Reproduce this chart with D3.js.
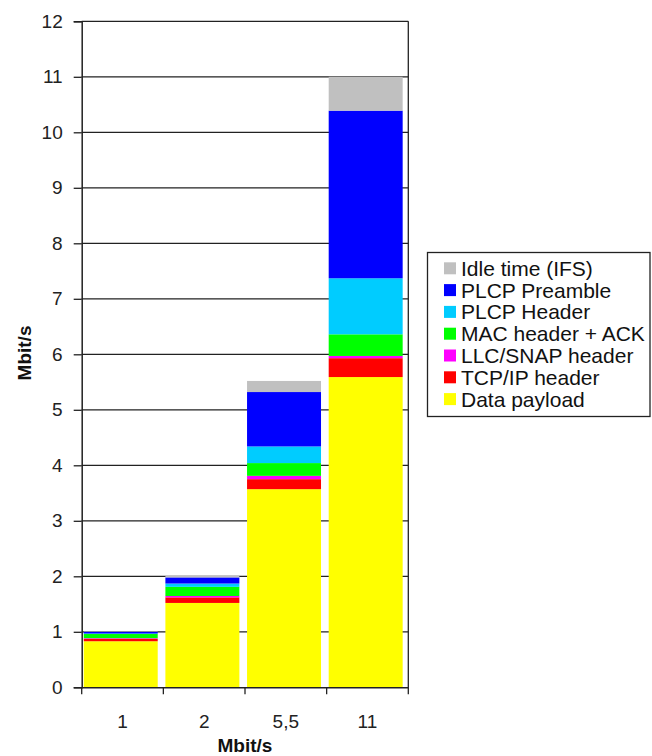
<!DOCTYPE html>
<html>
<head>
<meta charset="utf-8">
<script src="https://cdn.jsdelivr.net/npm/d3@7"></script>
<style>
  html, body { margin: 0; padding: 0; background: #fff; }
  svg { display: block; font-family: "Liberation Sans", Arial, sans-serif; }
</style>
</head>
<body>
<svg id="chart" width="652" height="756"></svg>
<script>
// ---- data ----
const categories = ["1", "2", "5,5", "11"];
const seriesNames = ["Data payload", "TCP/IP header", "LLC/SNAP header", "MAC header + ACK", "PLCP Header", "PLCP Preamble", "Idle time (IFS)"];
const seriesColors = ["#FFFF00", "#FF0000", "#FF00FF", "#00FF00", "#00CCFF", "#0000FF", "#C0C0C0"];
const dataPayload  = [0.83, 1.52, 3.57, 5.59];
const tcpIpHeader  = [0.045, 0.10, 0.18, 0.34];
const llcSnap      = [0.01, 0.025, 0.06, 0.04];
const macHeaderAck = [0.075, 0.165, 0.23, 0.39];
const plcpHeader   = [0.01, 0.06, 0.30, 1.01];
const plcpPreamble = [0.03, 0.11, 0.98, 3.02];
const idleTime     = [0.01, 0.03, 0.20, 0.61];
const yTicks = [0, 1, 2, 3, 4, 5, 6, 7, 8, 9, 10, 11, 12];
const axisTitle = "Mbit/s";

const seriesValues = [dataPayload, tcpIpHeader, llcSnap, macHeaderAck, plcpHeader, plcpPreamble, idleTime];
const table = categories.map((c, i) => {
  const row = { cat: c };
  seriesNames.forEach((s, j) => row[s] = seriesValues[j][i]);
  return row;
});
const stacked = d3.stack().keys(seriesNames)(table);

const svg = d3.select("#chart");
const plotLeft = 81.7, plotRight = 408.3, plotTop = 21.3, plotBottom = 687.3;

const x = d3.scaleBand().domain(categories).range([plotLeft, plotRight]).padding(0);
const y = d3.scaleLinear().domain([0, 12]).range([plotBottom, plotTop]);

// gridlines
svg.append("g").selectAll("line").data(yTicks.filter(d => d > 0)).join("line")
  .attr("x1", plotLeft).attr("x2", plotRight)
  .attr("y1", d => y(d)).attr("y2", d => y(d))
  .attr("stroke", "#222").attr("stroke-width", 1.3);

// right border
svg.append("line").attr("x1", plotRight).attr("x2", plotRight)
  .attr("y1", plotTop).attr("y2", plotBottom)
  .attr("stroke", "#222").attr("stroke-width", 1.3);

// bars
const bw = x.bandwidth();
svg.append("g").selectAll("g").data(stacked).join("g")
  .attr("fill", (d, i) => seriesColors[i])
  .selectAll("rect").data(d => d).join("rect")
  .attr("x", d => x(d.data.cat) + bw * 0.025)
  .attr("width", bw * 0.906)
  .attr("y", d => y(d[1]))
  .attr("height", d => y(d[0]) - y(d[1]));

// y axis
const yAxis = d3.axisLeft(y).tickValues(yTicks).tickSize(8).tickPadding(11).tickFormat(d3.format("d"));
const gy = svg.append("g").attr("transform", `translate(${plotLeft},0)`).call(yAxis);
gy.select(".domain").attr("stroke", "#222").attr("stroke-width", 1.5);
gy.selectAll(".tick line").attr("stroke", "#222").attr("stroke-width", 1.3);
gy.selectAll("text").attr("font-size", 19).attr("fill", "#222")
  .attr("font-family", "'Liberation Sans', Arial, sans-serif");

// x axis
const xAxis = d3.axisBottom(x).tickSize(0).tickPadding(27);
const gx = svg.append("g").attr("transform", `translate(0,${plotBottom})`).call(xAxis);
gx.select(".domain").attr("stroke", "#222").attr("stroke-width", 1.5);
gx.selectAll("text").attr("font-size", 19).attr("fill", "#222")
  .attr("font-family", "'Liberation Sans', Arial, sans-serif");
// category boundary ticks
const bounds = categories.map(c => x(c)).concat([plotRight]);
gx.append("g").selectAll("line").data(bounds).join("line")
  .attr("x1", d => d).attr("x2", d => d)
  .attr("y1", 0).attr("y2", 7)
  .attr("stroke", "#222").attr("stroke-width", 1.3);

// axis titles
svg.append("text").attr("x", (plotLeft + plotRight) / 2).attr("y", 752)
  .attr("text-anchor", "middle").attr("font-size", 19).attr("font-weight", "bold")
  .attr("fill", "#111").text(axisTitle);
svg.append("text").attr("transform", "translate(31,353) rotate(-90)")
  .attr("text-anchor", "middle").attr("font-size", 19).attr("font-weight", "bold")
  .attr("fill", "#111").text(axisTitle);

// legend
const lg = svg.append("g");
lg.append("rect").attr("x", 427.5).attr("y", 252.5).attr("width", 222.5).attr("height", 164)
  .attr("fill", "#fff").attr("stroke", "#222").attr("stroke-width", 1.3);
const legendOrder = seriesNames.map((s, i) => i).reverse();
const items = lg.selectAll("g.item").data(legendOrder).join("g").attr("class", "item")
  .attr("transform", (d, k) => `translate(0,${268.3 + k * 21.8})`);
items.append("rect").attr("x", 444).attr("y", -6).attr("width", 12).attr("height", 12)
  .attr("fill", d => seriesColors[d]);
items.append("text").attr("x", 461).attr("y", 0).attr("dy", "0.36em")
  .attr("font-size", 21).attr("fill", "#111").text(d => seriesNames[d]);
</script>
</body>
</html>
